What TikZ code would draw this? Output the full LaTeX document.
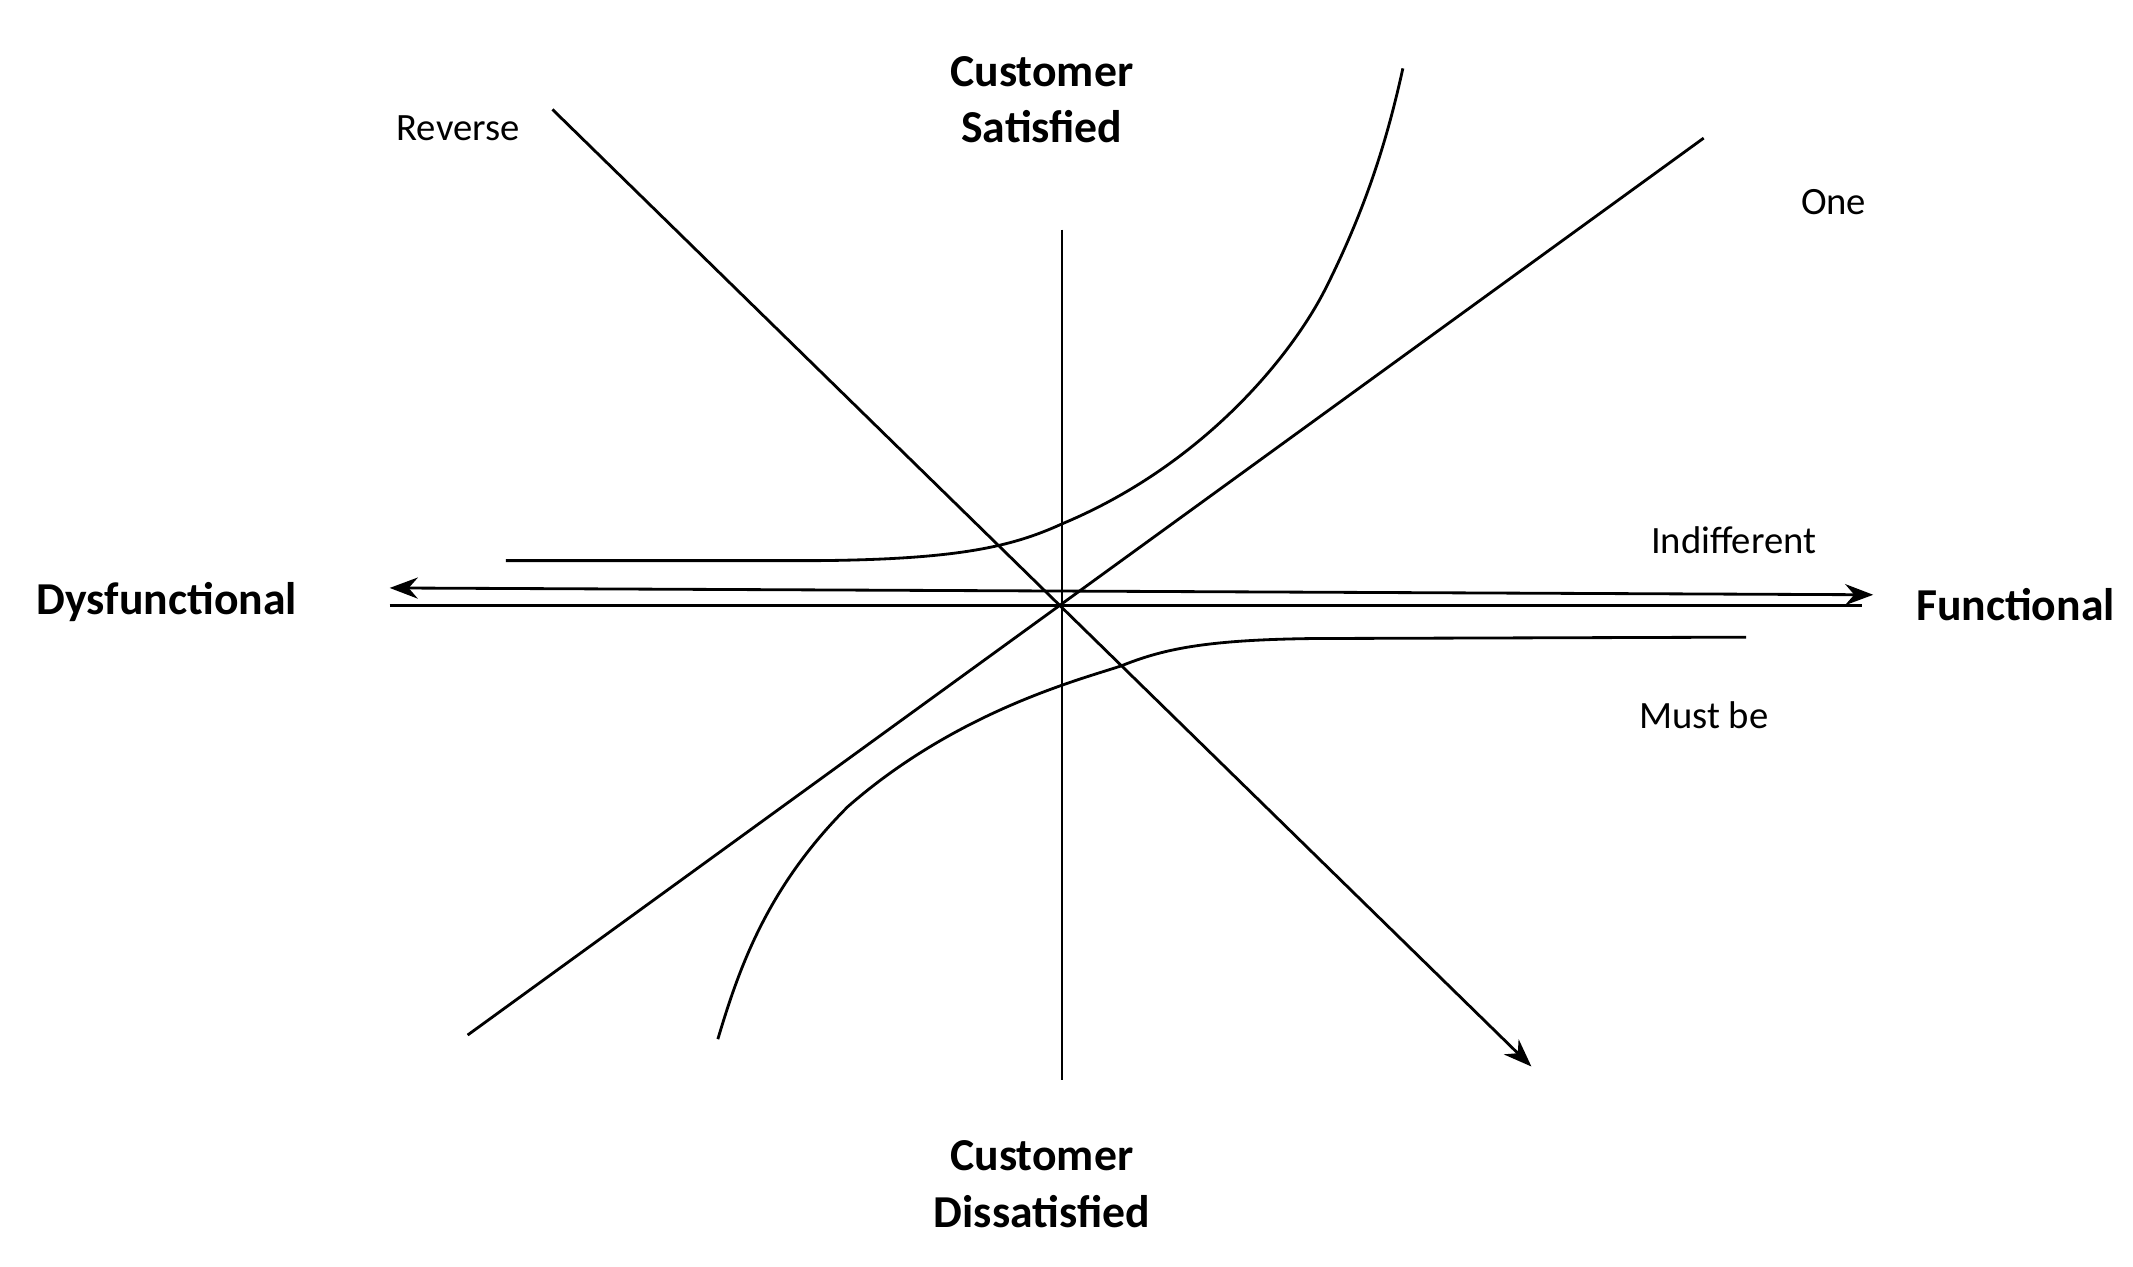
\documentclass[tikz,border=0pt]{standalone}
\usepackage{fontspec}
\setmainfont{Carlito}
\usetikzlibrary{arrows.meta}
\begin{document}
\begin{tikzpicture}[x=0.01367cm, y=-0.01367cm, thick,
    axis label/.style={font=\fontsize{13}{16}\selectfont\bfseries, align=center},
    curve label/.style={font=\fontsize{11}{13}\selectfont}]
        \useasboundingbox (0,0) rectangle (1560,926);
        % Labels
        \node[axis label] (sat) at (762,73) {Customer\\Satisfied};
        \node[axis label] (dissat) at (762,866) {Customer\\Dissatisfied};
        \node[axis label] (dys) at (122,440) {Dysfunctional};
        \node[axis label] (func) at (1474,442) {Functional};
        \node[curve label] (rev) at (335,94) {Reverse};
        \node[curve label] (one) at (1341,148) {One};
        \node[curve label] (ind) at (1268,395) {Indifferent};
        \node[curve label] (must) at (1246,523) {Must be};

        % Coordinates
        \coordinate (vtop) at (777,168);
        \coordinate (vbot) at (777,790);
        \coordinate (hl) at (285,430);
        \coordinate (hr) at (1370,435);
        \coordinate (bl) at (285,443);
        \coordinate (br) at (1362,443);
        \coordinate (revs) at (404,80);
        \coordinate (reve) at (1120,780);
        \coordinate (ones) at (1246,101);
        \coordinate (onee) at (342,757);

        % Axes and lines
        \draw[semithick] (vtop) -- (vbot);
        \draw[{Stealth[length=8pt]}-{Stealth[length=8pt]}] (hl) -- (hr);
        \draw (bl) -- (br);
        \draw[-{Stealth[length=8pt]}] (revs) -- (reve);
        \draw (ones) -- (onee);

        % Curves
        \draw (370,410) -- (600,410) .. controls (700,409) and (740,400) .. (777,383)
              .. controls (880,340) and (945,260) .. (970,210) .. controls (1000,150) and (1015,100) .. (1026,50);
        \draw (1277,466) -- (960,467) .. controls (880,468) and (850,475) .. (820,487)
              .. controls (790,497) and (700,520) .. (620,590) .. controls (560,650) and (540,710) .. (525,760);
\end{tikzpicture}
\end{document}
